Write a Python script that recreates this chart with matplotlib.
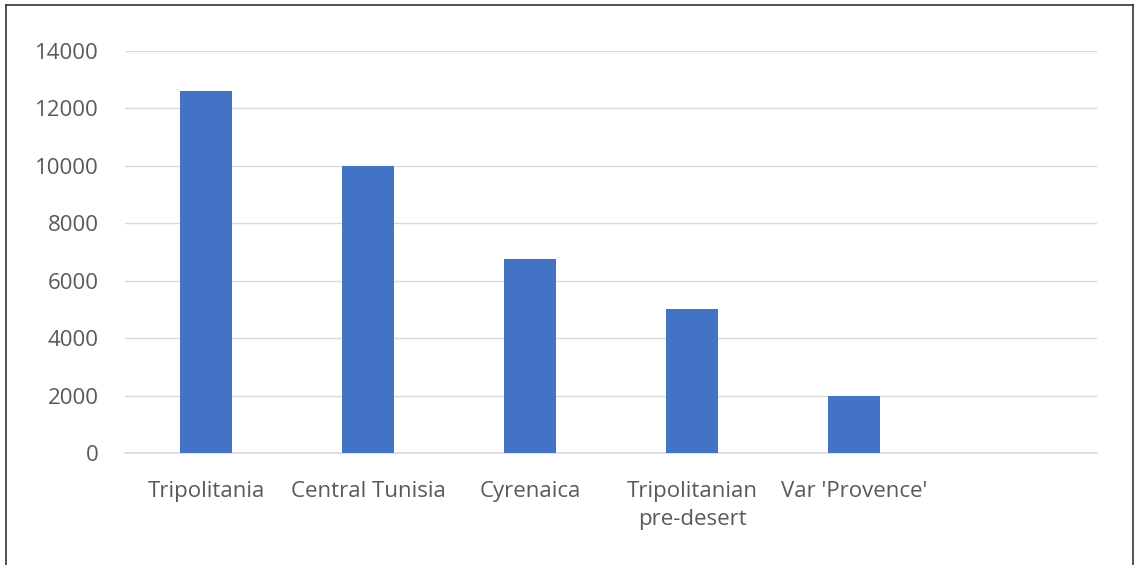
import matplotlib.pyplot as plt
from matplotlib.lines import Line2D

# Data (last slot is empty)
regions = ['Tripolitania', 'Central Tunisia', 'Cyrenaica', 'Tripolitanian\npre-desert', "Var 'Provence'", '']
values = [12600, 10000, 6750, 5000, 2000, 0]
yticks = [0, 2000, 4000, 6000, 8000, 10000, 12000, 14000]

plt.rcParams['font.family'] = ['Open Sans', 'DejaVu Sans']

fig = plt.figure(figsize=(11.37, 5.65), dpi=100)
ax = fig.add_axes([0.110, 0.198, 0.855, 0.712])

x = list(range(len(regions)))
ax.bar(x, values, width=0.32, color='#4472c4', zorder=3)

ax.set_xlim(-0.5, len(regions) - 0.5)
ax.set_ylim(0, 14000)
ax.set_yticks(yticks)
ax.set_xticks(x)
ax.set_xticklabels(regions, linespacing=1.45)
ax.grid(axis='y', color='#d9d9d9', linewidth=1, zorder=0)
ax.axhline(0, color='#d9d9d9', linewidth=1.2, zorder=1, clip_on=False)
for s in ax.spines.values():
    s.set_visible(False)
ax.tick_params(length=0, labelsize=16, colors='#595959', pad=20)
ax.tick_params(axis='y', pad=19)

# outer frame (left, top, right)
fig.add_artist(Line2D([6 / 1137, 6 / 1137], [0, 1 - 5 / 565], color='#333333', lw=1.2))
fig.add_artist(Line2D([6 / 1137, 1133 / 1137], [1 - 5 / 565, 1 - 5 / 565], color='#333333', lw=1.2))
fig.add_artist(Line2D([1133 / 1137, 1133 / 1137], [0, 1 - 5 / 565], color='#333333', lw=1.2))

fig.savefig('out.png', dpi=100)
